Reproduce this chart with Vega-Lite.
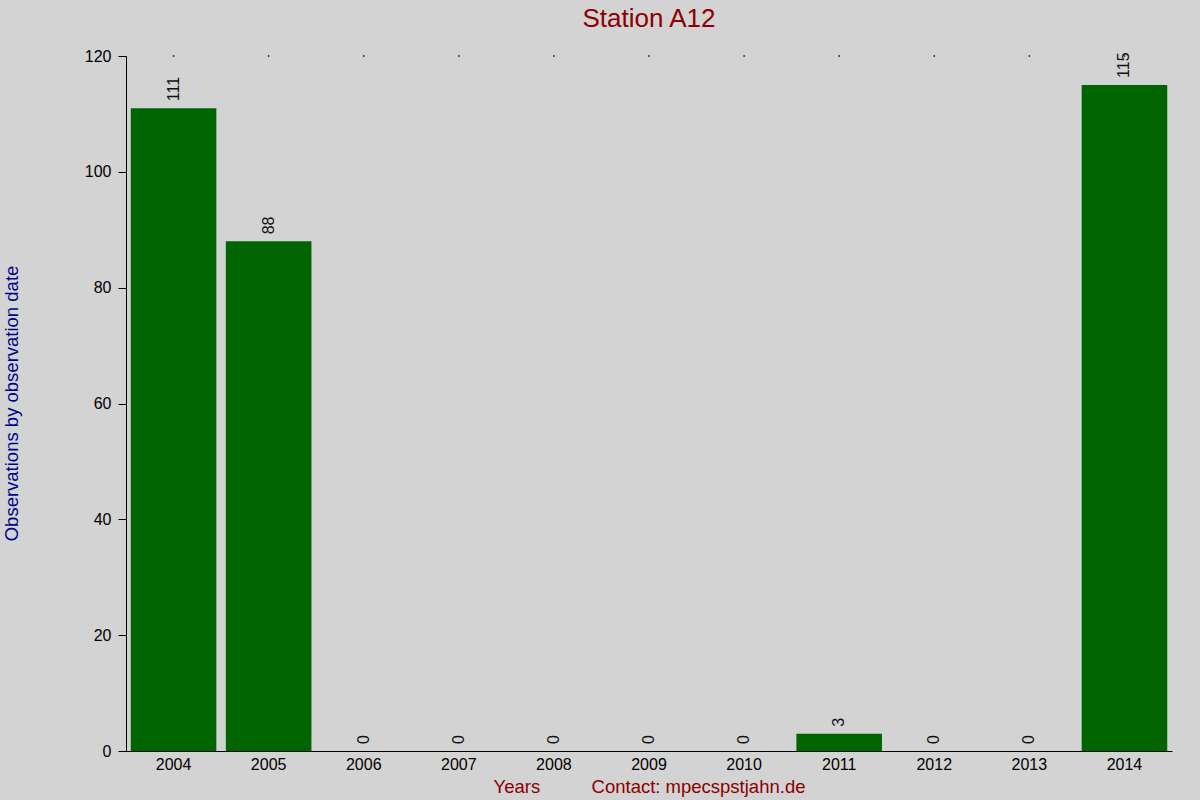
{
  "$schema": "https://vega.github.io/schema/vega-lite/v6.json",
  "autosize": {"type": "none"},
  "width": 1046,
  "height": 695,
  "padding": {"left": 126, "top": 56, "right": 28, "bottom": 49},
  "background": "#d3d3d3",
  "config": {"view": {"stroke": null}, "font": "Liberation Sans"},
  "title": {"text": "Station A12", "color": "#8b0000", "fontSize": 26, "fontWeight": "normal", "anchor": "middle", "offset": 16},
  "data": {
    "values": [
      {"year": "2004", "count": 111},
      {"year": "2005", "count": 88},
      {"year": "2006", "count": 0},
      {"year": "2007", "count": 0},
      {"year": "2008", "count": 0},
      {"year": "2009", "count": 0},
      {"year": "2010", "count": 0},
      {"year": "2011", "count": 3},
      {"year": "2012", "count": 0},
      {"year": "2013", "count": 0},
      {"year": "2014", "count": 115}
    ]
  },
  "encoding": {
    "x": {
      "field": "year", "type": "nominal",
      "scale": {"paddingInner": 0.1, "paddingOuter": 0.05},
      "axis": {
        "title": "Years\u00a0\u00a0\u00a0\u00a0\u00a0\u00a0\u00a0\u00a0\u00a0\u00a0Contact: mpecspstjahn.de",
        "titleColor": "#8b0000", "titleFontSize": 18.5, "titleFontWeight": "normal",
        "titleBaseline": "middle", "titleY": 35,
        "labelAngle": 0, "labelFontSize": 16, "labelColor": "#000000", "labelPadding": 5,
        "ticks": false, "domainColor": "#000000", "domainWidth": 1
      }
    }
  },
  "layer": [
    {
      "mark": {"type": "bar", "color": "#006400"},
      "encoding": {
        "y": {
          "field": "count", "type": "quantitative",
          "scale": {"domain": [0, 120], "nice": false},
          "axis": {
            "title": "Observations by observation date",
            "titleColor": "#00008b", "titleFontSize": 18.5, "titleFontWeight": "normal",
            "titleX": -115, "titleY": 347, "titleAngle": -90, "titleBaseline": "middle",
            "values": [0, 20, 40, 60, 80, 100, 120],
            "grid": false, "labelFontSize": 16, "labelColor": "#000000",
            "tickSize": 8, "tickColor": "#000000", "domainColor": "#000000", "labelPadding": 7
          }
        }
      }
    },
    {
      "mark": {"type": "text", "angle": -90, "align": "left", "baseline": "middle", "dx": 7, "fontSize": 16, "color": "#111111"},
      "encoding": {
        "y": {"field": "count", "type": "quantitative"},
        "text": {"field": "count", "type": "quantitative"}
      }
    },
    {
      "mark": {"type": "square", "size": 2, "color": "#000000", "opacity": 1},
      "encoding": {
        "y": {"datum": 120}
      }
    }
  ]
}
